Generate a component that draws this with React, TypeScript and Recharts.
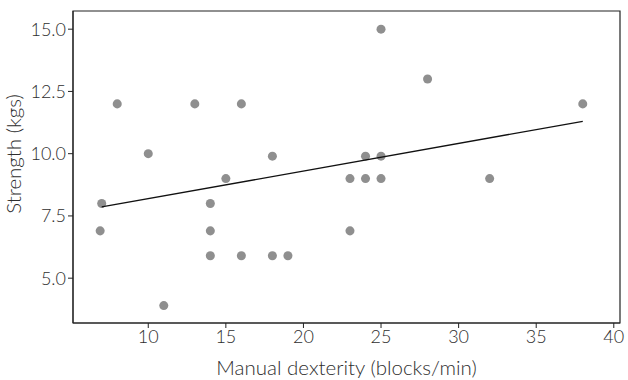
import React from 'react';
import { ComposedChart, Scatter, XAxis, YAxis, ZAxis, ReferenceArea } from 'recharts';

// observations: manual dexterity (blocks/min) vs strength (kgs)
const dexterity = [8, 13, 16, 10, 18, 15, 7, 14, 6.9, 14, 14, 16, 18, 19, 11, 25, 28, 38, 24, 25, 23, 24, 25, 32, 23];
const strength = [12, 12, 12, 10, 9.9, 9, 8, 8, 6.9, 6.9, 5.9, 5.9, 5.9, 5.9, 3.9, 15, 13, 12, 9.9, 9.9, 9, 9, 9, 9, 6.9];

// fitted line end points
const fitX = [7, 38];
const fitY = [7.86, 11.3];

const xTicks = [10, 15, 20, 25, 30, 35, 40];
const yTicks = [5, 7.5, 10, 12.5, 15];
const xDomain = [5.15, 40.4];
const yDomain = [3.2, 15.73];

const points = dexterity.map((x, i) => ({ x, y: strength[i] }));
const fitLine = fitX.map((x, i) => ({ x, y: fitY[i] }));

const font = 'Lato, "Open Sans", sans-serif';
const textColor = '#2e2e2e';

const XTitle = ({ viewBox }: any) => (
    <text x={viewBox.x + viewBox.width / 2} y={viewBox.y + viewBox.height - 5} textAnchor="middle"
        fill={textColor} fontSize={20.5} fontFamily={font} fontWeight={300}>
        Manual dexterity (blocks/min)
    </text>
);

const YTitle = ({ viewBox }: any) => {
    const cx = 13;
    const cy = viewBox.y + viewBox.height / 2 - 13;
    return (
        <text x={cx} y={cy} transform={`rotate(-90 ${cx} ${cy})`} textAnchor="middle" dominantBaseline="central"
            fill={textColor} fontSize={20.5} fontFamily={font} fontWeight={300}>
            Strength (kgs)
        </text>
    );
};

export default function App() {
    return (
        <div style={{ position: 'fixed', left: 0, top: 0, width: 628, height: 380, background: '#fff' }}>
            <ComposedChart width={628} height={380} margin={{ top: 11, right: 8, left: 0, bottom: 0 }}>
                <XAxis
                    type="number"
                    dataKey="x"
                    domain={xDomain}
                    ticks={xTicks}
                    allowDataOverflow
                    height={57}
                    stroke="#222"
                    tickSize={5}
                    tick={{ fill: textColor, fontSize: 18, fontFamily: font, fontWeight: 300 }}
                    label={<XTitle />}
                />
                <YAxis
                    type="number"
                    dataKey="y"
                    domain={yDomain}
                    ticks={yTicks}
                    allowDataOverflow
                    width={73}
                    stroke="#222"
                    tickSize={5}
                    tickFormatter={(v: number) => v.toFixed(1)}
                    tick={{ fill: textColor, fontSize: 18, fontFamily: font, fontWeight: 300 }}
                    label={<YTitle />}
                />
                <ZAxis range={[64, 64]} />
                <ReferenceArea x1={xDomain[0]} x2={xDomain[1]} y1={yDomain[0]} y2={yDomain[1]} fill="none" stroke="#222" strokeWidth={1.2} />
                <Scatter data={points} fill="#8f8f8f" isAnimationActive={false} />
                <Scatter
                    data={fitLine}
                    line={{ stroke: '#111', strokeWidth: 1.3 }}
                    shape={() => <g />}
                    isAnimationActive={false}
                />
            </ComposedChart>
        </div>
    );
}
